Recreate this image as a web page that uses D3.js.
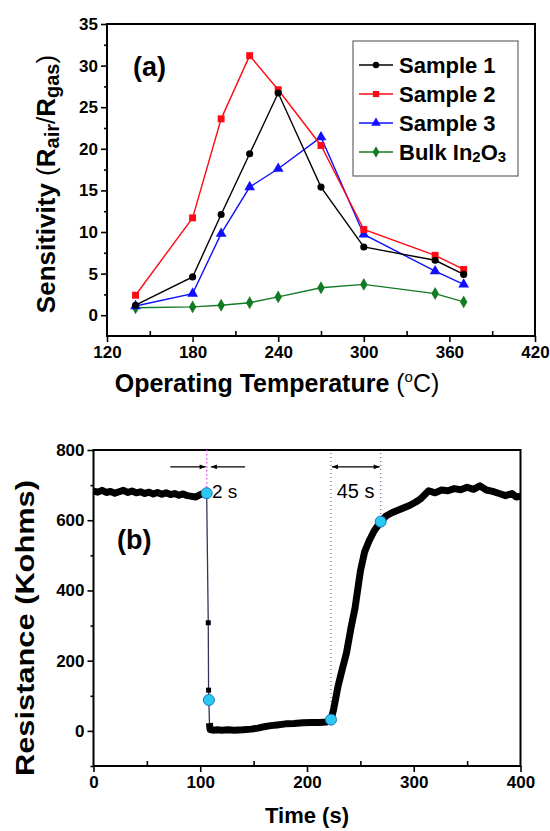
<!DOCTYPE html>
<html>
<head>
<meta charset="utf-8">
<script src="https://cdn.jsdelivr.net/npm/d3@7"></script>
<style>
body { margin: 0; background: #fff; }
text { font-family: Arial, "Liberation Sans", sans-serif; fill: #000; }
.axis text { font-weight: bold; font-size: 17px; }
.axis path, .axis line { stroke: #000; stroke-width: 1.6; }
</style>
</head>
<body>
<svg id="fig" width="550" height="831"></svg>
<script>
// ---- panel (a): sensitivity vs operating temperature
var temps = [140, 180, 200, 220, 240, 270, 300, 350, 370];
var sample1 = [1.2, 4.6, 12.1, 19.4, 26.7, 15.4, 8.2, 6.6, 4.9];
var sample2 = [2.4, 11.7, 23.6, 31.2, 27.1, 20.4, 10.3, 7.2, 5.5];
var sample3 = [1.1, 2.6, 9.8, 15.4, 17.6, 21.4, 9.7, 5.3, 3.7];
var bulk = [0.9, 1.0, 1.2, 1.5, 2.2, 3.3, 3.7, 2.6, 1.6];
var seriesNames = ['Sample 1', 'Sample 2', 'Sample 3', 'Bulk In2O3'];
var tempTicks = [120, 180, 240, 300, 360, 420];
var sensTicks = [0, 5, 10, 15, 20, 25, 30, 35];

// ---- panel (b): resistance transient
var timePre = [0, 4, 8, 12, 16, 20, 24, 28, 32, 36, 40, 44, 48, 52, 56, 60, 64, 68, 72, 76, 80, 84, 88, 92, 96, 100, 103, 106];
var resPre = [683, 680, 685, 679, 682, 677, 681, 685, 679, 683, 678, 681, 676, 680, 675, 679, 674, 678, 673, 676, 671, 675, 670, 668, 666, 673, 676, 677];
var timeDrop = [106, 107.5, 107.8, 108.1, 108.6];
var resDrop = [677, 308, 116, 88, 22];
var timePost = [108.6, 109.2, 112, 116, 120, 126, 132, 140, 148, 154, 160, 166, 172, 180, 188, 196, 204, 212, 218, 222.5, 225, 229, 233, 237, 241, 245, 250, 254, 258, 263, 269, 274, 280, 288, 296, 302, 306, 310, 314, 320, 326, 332, 338, 344, 350, 356, 362, 368, 374, 380, 386, 392, 396, 400];
var resPost = [22, 4, 2, 3, 2, 3, 2, 3, 5, 8, 12, 15, 17, 20, 21, 23, 24, 24, 25, 32, 62, 126, 175, 222, 290, 350, 455, 510, 540, 570, 596, 612, 622, 632, 642, 652, 660, 672, 684, 678, 686, 684, 690, 687, 694, 688, 698, 686, 682, 676, 670, 676, 666, 668];
var keyTimes = [106, 108.1, 222.5, 269];
var keyRes = [677, 88, 32, 596];
var timeTicks = [0, 100, 200, 300, 400];
var resTicks = [0, 200, 400, 600, 800];

var svg = d3.select('#fig');
var defs = svg.append('defs');
defs.append('marker').attr('id', 'head')
  .attr('viewBox', '0 0 10 10').attr('refX', 10).attr('refY', 5)
  .attr('markerWidth', 7).attr('markerHeight', 6).attr('orient', 'auto-start-reverse')
  .attr('markerUnits', 'userSpaceOnUse')
  .append('path').attr('d', 'M0,1 L10,5 L0,9 Z').attr('fill', '#000');

// ================= panel (a) =================
var xA = d3.scaleLinear().domain([120, 420]).range([107, 535]);
var yA = d3.scaleLinear().domain([-2.5, 35]).range([336, 24]);

var gA = svg.append('g');
gA.append('rect').attr('x', 107).attr('y', 24).attr('width', 428).attr('height', 312)
  .attr('fill', 'none').attr('stroke', '#000').attr('stroke-width', 2);

gA.append('g').attr('class', 'axis').attr('transform', 'translate(0,336)')
  .call(d3.axisBottom(xA).tickValues(tempTicks).tickSize(6).tickPadding(4).tickFormat(d3.format('d')))
  .call(function (g) { g.select('.domain').remove(); });
gA.append('g').attr('class', 'axis').attr('transform', 'translate(0,336)')
  .call(d3.axisTop(xA).tickValues([150, 210, 270, 330, 390]).tickSize(5).tickFormat(''))
  .call(function (g) { g.select('.domain').remove(); });
gA.append('g').attr('class', 'axis').attr('transform', 'translate(107,0)')
  .call(d3.axisLeft(yA).tickValues(sensTicks).tickSize(6).tickPadding(3))
  .call(function (g) { g.select('.domain').remove(); });
gA.append('g').attr('class', 'axis').attr('transform', 'translate(107,0)')
  .call(d3.axisLeft(yA).tickValues([2.5, 7.5, 12.5, 17.5, 22.5, 27.5, 32.5]).tickSize(3).tickFormat(''))
  .call(function (g) { g.select('.domain').remove(); });

var seriesA = [
  { name: seriesNames[0], values: sample1, color: '#000000', sym: d3.symbolCircle, size: 40 },
  { name: seriesNames[1], values: sample2, color: '#ff0a14', sym: d3.symbolSquare, size: 48 },
  { name: seriesNames[2], values: sample3, color: '#1010ff', sym: d3.symbolTriangle, size: 50 },
  { name: seriesNames[3], values: bulk, color: '#137a25', sym: d3.symbolDiamond, size: 48 }
];
var lineA = d3.line().x(function (d) { return xA(d[0]); }).y(function (d) { return yA(d[1]); });

[3, 2, 1, 0].forEach(function (k) {
  var s = seriesA[k];
  var pts = d3.zip(temps, s.values);
  gA.append('path').datum(pts).attr('d', lineA)
    .attr('fill', 'none').attr('stroke', s.color).attr('stroke-width', 1.4);
  gA.selectAll(null).data(pts).enter().append('path')
    .attr('transform', function (d) { return 'translate(' + xA(d[0]) + ',' + yA(d[1]) + ')'; })
    .attr('d', d3.symbol().type(s.sym).size(s.size))
    .attr('fill', s.color);
});

// legend
var leg = gA.append('g');
leg.append('rect').attr('x', 353).attr('y', 41).attr('width', 165).attr('height', 135)
  .attr('fill', '#fff').attr('stroke', '#666').attr('stroke-width', 1.2);
seriesA.forEach(function (s, i) {
  var yy = 65 + i * 29;
  leg.append('line').attr('x1', 359).attr('x2', 393).attr('y1', yy).attr('y2', yy)
    .attr('stroke', s.color).attr('stroke-width', 1.4);
  leg.append('path').attr('transform', 'translate(376,' + yy + ')')
    .attr('d', d3.symbol().type(s.sym).size(s.size * 0.8)).attr('fill', s.color);
  var t = leg.append('text').attr('x', 399).attr('y', yy + 8)
    .attr('font-weight', 'bold').attr('font-size', 22);
  if (i < 3) t.text(s.name);
  else {
    t.append('tspan').text('Bulk In');
    t.append('tspan').attr('font-size', 15).attr('dy', 2).text('2');
    t.append('tspan').attr('dy', -2).text('O');
    t.append('tspan').attr('font-size', 15).attr('dy', 2).text('3');
  }
});

gA.append('text').attr('x', 133).attr('y', 76).attr('font-weight', 'bold').attr('font-size', 27).text('(a)');

// axis titles (a)
var ytA = gA.append('text').attr('transform', 'translate(55,184) rotate(-90)')
  .attr('text-anchor', 'middle').attr('font-size', 26).attr('font-weight', 'bold');
ytA.append('tspan').text('Sensitivity ');
ytA.append('tspan').attr('font-weight', 'normal').text('(');
ytA.append('tspan').text('R');
ytA.append('tspan').attr('font-size', 20).attr('dy', 4).text('air');
ytA.append('tspan').attr('dy', -4).attr('font-weight', 'normal').text('/');
ytA.append('tspan').text('R');
ytA.append('tspan').attr('font-size', 20).attr('dy', 4).text('gas');
ytA.append('tspan').attr('dy', -4).attr('font-weight', 'normal').text(')');

var xtA = gA.append('text').attr('x', 277).attr('y', 392)
  .attr('text-anchor', 'middle').attr('font-size', 25).attr('font-weight', 'bold');
xtA.append('tspan').text('Operating Temperature ');
xtA.append('tspan').attr('font-weight', 'normal').text('(');
xtA.append('tspan').attr('font-weight', 'normal').attr('font-size', 15).attr('dy', -10).text('o');
xtA.append('tspan').attr('font-weight', 'normal').attr('dy', 10).text('C)');

// ================= panel (b) =================
var xB = d3.scaleLinear().domain([0, 400]).range([93.5, 520.5]);
var yB = d3.scaleLinear().domain([-100, 800]).range([766, 450]);

var gB = svg.append('g');
gB.append('rect').attr('x', 93.5).attr('y', 450).attr('width', 427).attr('height', 316)
  .attr('fill', 'none').attr('stroke', '#000').attr('stroke-width', 2);

gB.append('g').attr('class', 'axis').attr('transform', 'translate(0,766)')
  .call(d3.axisBottom(xB).tickValues(timeTicks).tickSize(6).tickPadding(4))
  .call(function (g) { g.select('.domain').remove(); });
gB.append('g').attr('class', 'axis').attr('transform', 'translate(0,766)')
  .call(d3.axisTop(xB).tickValues([50, 150, 250, 350]).tickSize(5).tickFormat(''))
  .call(function (g) { g.select('.domain').remove(); });
gB.append('g').attr('class', 'axis').attr('transform', 'translate(93.5,0)')
  .call(d3.axisLeft(yB).tickValues(resTicks).tickSize(6).tickPadding(3))
  .call(function (g) { g.select('.domain').remove(); });
gB.append('g').attr('class', 'axis').attr('transform', 'translate(93.5,0)')
  .call(d3.axisLeft(yB).tickValues([-100, 100, 300, 500, 700]).tickSize(3).tickFormat(''))
  .call(function (g) { g.select('.domain').remove(); });

var lineB = d3.line().x(function (d) { return xB(d[0]); }).y(function (d) { return yB(d[1]); });

// guide lines
var guideTop = 800;
gB.append('line').attr('x1', xB(keyTimes[0])).attr('x2', xB(keyTimes[0]))
  .attr('y1', yB(guideTop)).attr('y2', yB(keyRes[0]))
  .attr('stroke', '#e050e0').attr('stroke-width', 1.4).attr('stroke-dasharray', '1.5,2.5');
[2, 3].forEach(function (k) {
  gB.append('line').attr('x1', xB(keyTimes[k])).attr('x2', xB(keyTimes[k]))
    .attr('y1', yB(guideTop) + 3).attr('y2', yB(keyRes[k]))
    .attr('stroke', '#6d6d9a').attr('stroke-width', 1.2).attr('stroke-dasharray', '1,3');
});

// data
gB.append('path').datum(d3.zip(timeDrop, resDrop)).attr('d', lineB)
  .attr('fill', 'none').attr('stroke', '#35355a').attr('stroke-width', 1.3);
gB.selectAll(null).data(d3.zip(timeDrop, resDrop).slice(1, 3)).enter().append('rect')
  .attr('x', function (d) { return xB(d[0]) - 2.5; }).attr('y', function (d) { return yB(d[1]) - 2.5; })
  .attr('width', 5).attr('height', 5).attr('fill', '#000');
[[timePre, resPre], [timePost, resPost]].forEach(function (p) {
  gB.append('path').datum(d3.zip(p[0], p[1])).attr('d', lineB)
    .attr('fill', 'none').attr('stroke', '#000').attr('stroke-width', 7)
    .attr('stroke-linejoin', 'round').attr('stroke-linecap', 'butt');
});
gB.selectAll(null).data(d3.zip(keyTimes, keyRes)).enter().append('circle')
  .attr('cx', function (d) { return xB(d[0]); }).attr('cy', function (d) { return yB(d[1]); })
  .attr('r', 5.5).attr('fill', '#2cc8f2').attr('stroke', '#1b78c8').attr('stroke-width', 1);

// response / recovery arrows
var arrowRes = 752;
gB.append('line').attr('x1', xB(72)).attr('x2', xB(keyTimes[0]) - 1)
  .attr('y1', yB(arrowRes)).attr('y2', yB(arrowRes))
  .attr('stroke', '#000').attr('stroke-width', 1.3).attr('marker-end', 'url(#head)');
gB.append('line').attr('x1', xB(142)).attr('x2', xB(keyTimes[1]) + 2)
  .attr('y1', yB(arrowRes)).attr('y2', yB(arrowRes))
  .attr('stroke', '#000').attr('stroke-width', 1.3).attr('marker-end', 'url(#head)');
gB.append('line').attr('x1', xB(keyTimes[2]) + 1).attr('x2', xB(keyTimes[3]) - 1)
  .attr('y1', yB(arrowRes)).attr('y2', yB(arrowRes))
  .attr('stroke', '#000').attr('stroke-width', 1.3)
  .attr('marker-start', 'url(#head)').attr('marker-end', 'url(#head)');
gB.append('text').attr('x', xB(111)).attr('y', yB(663)).attr('font-size', 19).text('2 s');
gB.append('text').attr('x', xB(245.5)).attr('y', yB(663)).attr('text-anchor', 'middle')
  .attr('font-size', 20).text('45 s');

gB.append('text').attr('x', 117).attr('y', 549).attr('font-weight', 'bold').attr('font-size', 27).text('(b)');

gB.append('text').attr('transform', 'translate(34,628) rotate(-90)')
  .attr('text-anchor', 'middle').attr('font-size', 25).attr('font-weight', 'bold')
  .attr('textLength', 296).attr('lengthAdjust', 'spacingAndGlyphs')
  .text('Resistance (Kohms)');
gB.append('text').attr('x', 307).attr('y', 823)
  .attr('text-anchor', 'middle').attr('font-size', 22).attr('font-weight', 'bold')
  .text('Time (s)');
</script>
</body>
</html>
